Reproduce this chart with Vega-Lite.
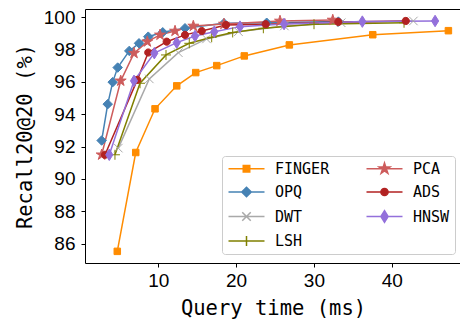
{
  "$schema": "https://vega.github.io/schema/vega-lite/v6.json",
  "width": 376,
  "height": 254,
  "autosize": {"type": "none"},
  "padding": {"left": 85, "top": 9, "right": 0, "bottom": 61},
  "background": "white",
  "config": {
    "view": {"stroke": "black", "strokeWidth": 1},
    "axis": {"grid": false, "domain": false, "tickColor": "black", "tickSize": 4, "labelFont": "Liberation Sans", "labelFontSize": 19, "labelColor": "black", "titleFont": "DejaVu Sans Mono", "titleFontSize": 20.5, "titleFontWeight": "normal", "titleColor": "black"}
  },
  "data": {
    "values": [
      {"m": "FINGER", "t": 4.73, "r": 85.52}, {"m": "FINGER", "t": 7.10, "r": 91.63}, {"m": "FINGER", "t": 9.58, "r": 94.33}, {"m": "FINGER", "t": 12.37, "r": 95.75}, {"m": "FINGER", "t": 14.81, "r": 96.57}, {"m": "FINGER", "t": 17.51, "r": 97.0}, {"m": "FINGER", "t": 21.05, "r": 97.6}, {"m": "FINGER", "t": 26.84, "r": 98.28}, {"m": "FINGER", "t": 37.56, "r": 98.91}, {"m": "FINGER", "t": 47.28, "r": 99.16},
      {"m": "OPQ", "t": 2.72, "r": 92.37}, {"m": "OPQ", "t": 3.50, "r": 94.62}, {"m": "OPQ", "t": 4.14, "r": 95.98}, {"m": "OPQ", "t": 4.78, "r": 96.88}, {"m": "OPQ", "t": 6.27, "r": 97.91}, {"m": "OPQ", "t": 7.52, "r": 98.38}, {"m": "OPQ", "t": 8.71, "r": 98.79}, {"m": "OPQ", "t": 10.57, "r": 99.06}, {"m": "OPQ", "t": 13.43, "r": 99.31}, {"m": "OPQ", "t": 18.44, "r": 99.62}, {"m": "OPQ", "t": 23.93, "r": 99.65}, {"m": "OPQ", "t": 33.14, "r": 99.72},
      {"m": "DWT", "t": 4.86, "r": 91.9}, {"m": "DWT", "t": 8.84, "r": 96.18}, {"m": "DWT", "t": 12.57, "r": 97.8}, {"m": "DWT", "t": 16.2, "r": 98.65}, {"m": "DWT", "t": 20.3, "r": 99.1}, {"m": "DWT", "t": 26.2, "r": 99.45}, {"m": "DWT", "t": 33.5, "r": 99.65}, {"m": "DWT", "t": 42.78, "r": 99.76},
      {"m": "LSH", "t": 4.43, "r": 91.49}, {"m": "LSH", "t": 7.65, "r": 95.91}, {"m": "LSH", "t": 10.99, "r": 97.66}, {"m": "LSH", "t": 13.98, "r": 98.38}, {"m": "LSH", "t": 16.86, "r": 98.75}, {"m": "LSH", "t": 19.56, "r": 99.05}, {"m": "LSH", "t": 23.5, "r": 99.31}, {"m": "LSH", "t": 30.01, "r": 99.56}, {"m": "LSH", "t": 41.58, "r": 99.65},
      {"m": "PCA", "t": 2.72, "r": 91.49}, {"m": "PCA", "t": 5.17, "r": 96.06}, {"m": "PCA", "t": 6.88, "r": 97.77}, {"m": "PCA", "t": 8.59, "r": 98.48}, {"m": "PCA", "t": 10.22, "r": 98.9}, {"m": "PCA", "t": 12.15, "r": 99.14}, {"m": "PCA", "t": 14.5, "r": 99.45}, {"m": "PCA", "t": 18.44, "r": 99.57}, {"m": "PCA", "t": 25.64, "r": 99.76}, {"m": "PCA", "t": 32.42, "r": 99.82},
      {"m": "ADS", "t": 3.15, "r": 91.49}, {"m": "ADS", "t": 7.30, "r": 96.12}, {"m": "ADS", "t": 8.71, "r": 97.81}, {"m": "ADS", "t": 11.08, "r": 98.48}, {"m": "ADS", "t": 13.43, "r": 98.9}, {"m": "ADS", "t": 15.58, "r": 99.14}, {"m": "ADS", "t": 18.7, "r": 99.51}, {"m": "ADS", "t": 23.8, "r": 99.56}, {"m": "ADS", "t": 33.14, "r": 99.7}, {"m": "ADS", "t": 41.8, "r": 99.76},
      {"m": "HNSW", "t": 3.70, "r": 91.49}, {"m": "HNSW", "t": 6.88, "r": 96.06}, {"m": "HNSW", "t": 9.49, "r": 97.77}, {"m": "HNSW", "t": 12.37, "r": 98.42}, {"m": "HNSW", "t": 14.72, "r": 98.83}, {"m": "HNSW", "t": 17.2, "r": 99.1}, {"m": "HNSW", "t": 20.5, "r": 99.41}, {"m": "HNSW", "t": 26.16, "r": 99.57}, {"m": "HNSW", "t": 36.22, "r": 99.72}, {"m": "HNSW", "t": 45.57, "r": 99.76}
    ]
  },
  "encoding": {
    "x": {"field": "t", "type": "quantitative", "scale": {"domain": [0.58, 48.9], "nice": false, "zero": false}, "axis": {"values": [10, 20, 30, 40], "title": "Query time (ms)", "labelPadding": 4, "titlePadding": 8}},
    "y": {"field": "r", "type": "quantitative", "scale": {"domain": [84.8, 100.5], "nice": false, "zero": false}, "axis": {"values": [86, 88, 90, 92, 94, 96, 98, 100], "title": "Recall20@20 (%)", "labelPadding": 6, "titlePadding": 8}}
  },
  "layer": [
    {
      "mark": {"type": "line", "strokeWidth": 1.5},
      "encoding": {
        "color": {
          "field": "m", "type": "nominal",
          "scale": {"domain": ["FINGER", "OPQ", "DWT", "LSH", "PCA", "ADS", "HNSW"], "range": ["#ff8c00", "#4682b4", "#a9a9a9", "#808000", "#cd5c5c", "#b22222", "#9370db"]},
          "legend": {
            "title": null, "orient": "none", "legendX": 137, "legendY": 147, "columns": 2, "direction": "vertical",
            "padding": 5, "strokeColor": "#cccccc", "fillColor": "rgba(255,255,255,0.85)", "cornerRadius": 3,
            "labelFont": "DejaVu Sans Mono", "labelFontSize": 15, "labelColor": "black",
            "symbolSize": 100, "symbolOffset": 12, "labelOffset": 21, "columnPadding": 33, "rowPadding": 6.5,
            "encode": {"symbols": {"update": {
              "shape": {"signal": "datum.value === 'FINGER' ? 'M-3.6,0H3.6M-0.65,-0.65H0.65V0.65H-0.65Z' : datum.value === 'OPQ' ? 'M-3.6,0H3.6M0,-0.95L0.95,0L0,0.95L-0.95,0Z' : datum.value === 'DWT' ? 'M-3.6,0H3.6M-0.85,-0.85L0.85,0.85M-0.85,0.85L0.85,-0.85' : datum.value === 'LSH' ? 'M-3.6,0H3.6M0,-1V1' : datum.value === 'PCA' ? 'M-3.6,0H3.6M0,-1.15L0.258,-0.355L1.094,-0.355L0.417,0.136L0.676,0.93L0,0.439L-0.676,0.93L-0.417,0.136L-1.094,-0.355L-0.258,-0.355Z' : datum.value === 'ADS' ? 'M-3.6,0H3.6M0.72,0A0.72,0.72,0,1,1,-0.72,0A0.72,0.72,0,1,1,0.72,0Z' : 'M-3.6,0H3.6M0,-1.15L0.72,0L0,1.15L-0.72,0Z'"},
              "fill": {"scale": "color", "field": "value"},
              "stroke": {"scale": "color", "field": "value"},
              "strokeWidth": {"value": 1.5},
              "size": {"value": 100},
              "opacity": {"value": 1}
            }}}
          }
        }
      }
    },
    {
      "mark": {"type": "point", "filled": true, "size": 100, "strokeWidth": 1, "opacity": 1},
      "encoding": {
        "fill": {"field": "m", "type": "nominal", "legend": null, "scale": {"domain": ["HNSW", "ADS", "PCA", "LSH", "DWT", "OPQ", "FINGER"], "range": ["#9370db", "#b22222", "#cd5c5c", "#808000", "#a9a9a9", "#4682b4", "#ff8c00"]}},
        "stroke": {"field": "m", "type": "nominal", "legend": null, "scale": {"domain": ["HNSW", "ADS", "PCA", "LSH", "DWT", "OPQ", "FINGER"], "range": ["#9370db", "#b22222", "#cd5c5c", "#808000", "#a9a9a9", "#4682b4", "#ff8c00"]}},
        "shape": {"field": "m", "type": "nominal", "legend": null, "scale": {
          "domain": ["HNSW", "ADS", "PCA", "LSH", "DWT", "OPQ", "FINGER"],
          "range": [
            "M0,-1.15L0.72,0L0,1.15L-0.72,0Z",
            "M0.72,0A0.72,0.72,0,1,1,-0.72,0A0.72,0.72,0,1,1,0.72,0Z",
            "M0,-1.15L0.258,-0.355L1.094,-0.355L0.417,0.136L0.676,0.93L0,0.439L-0.676,0.93L-0.417,0.136L-1.094,-0.355L-0.258,-0.355Z",
            "M-1,0H1M0,-1V1",
            "M-0.85,-0.85L0.85,0.85M-0.85,0.85L0.85,-0.85",
            "M0,-0.95L0.95,0L0,0.95L-0.95,0Z",
            "M-0.65,-0.65H0.65V0.65H-0.65Z"
          ]
        }}
      }
    }
  ]
}
